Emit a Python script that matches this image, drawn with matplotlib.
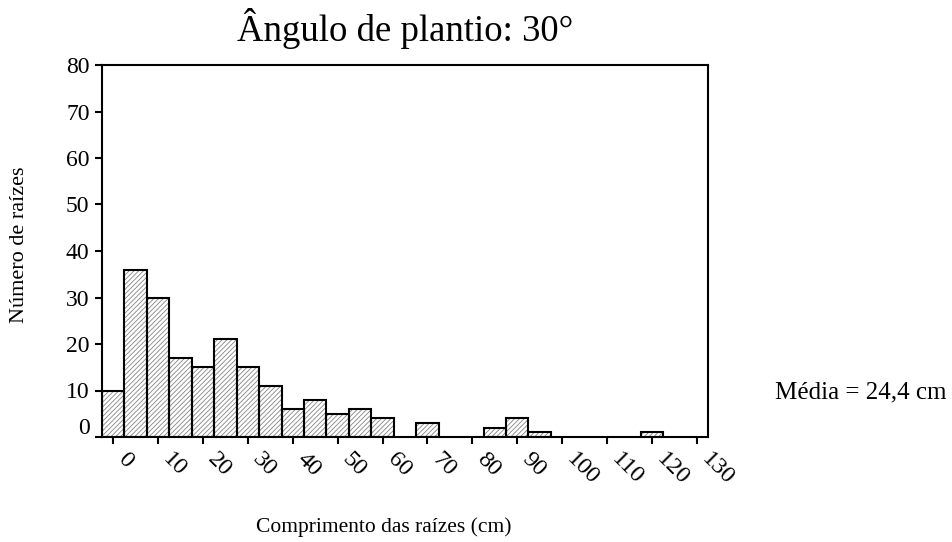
import matplotlib
matplotlib.use("Agg")
import matplotlib.pyplot as plt
import matplotlib.transforms as mtransforms

plt.rcParams['font.family'] = ['Liberation Serif', 'DejaVu Serif']
plt.rcParams['hatch.linewidth'] = 0.6

# bin centres (cm) and counts, 5 cm bins
centres = [0, 5, 10, 15, 20, 25, 30, 35, 40, 45, 50, 55, 60, 70, 85, 90, 95, 120]
counts = [10, 36, 30, 17, 15, 21, 15, 11, 6, 8, 5, 6, 4, 3, 2, 4, 1, 1]
xticks = list(range(0, 140, 10))
yticks = list(range(0, 90, 10))

fig = plt.figure(figsize=(9.52, 5.42), dpi=100)
ax = fig.add_axes([102 / 952, 1 - 437 / 542, 606 / 952, 372 / 542])

# hatched fill, then black outline on top
ax.bar(centres, counts, width=5, color='white', edgecolor='#858585',
       hatch='///////', linewidth=0)
ax.bar(centres, counts, width=5, fill=False, edgecolor='black', linewidth=1.5)

ax.set_xlim(-2.5, 132.5)
ax.set_ylim(0, 80)
ax.set_xticks(xticks)
ax.set_xticklabels([str(t) for t in xticks], rotation=-45, ha='left', va='center',
                   rotation_mode='anchor', fontsize=17.5)
ax.set_yticks(yticks)
ax.set_yticklabels([str(t) for t in yticks], fontsize=17)
ax.tick_params(axis='both', direction='out', length=5, width=1.5)
ax.tick_params(axis='y', pad=4)
ax.tick_params(axis='x', pad=9)
for s in ax.spines.values():
    s.set_linewidth(1.5)

# x labels sit to the right of their ticks
for lab in ax.get_xticklabels():
    lab.set_transform(lab.get_transform() +
                      mtransforms.ScaledTranslation(0.08, 0, fig.dpi_scale_trans))

# the "0" label sits a little above its tick in the original
lab0 = ax.get_yticklabels()[0]
lab0.set_transform(lab0.get_transform() +
                   mtransforms.ScaledTranslation(0, 0.11, fig.dpi_scale_trans))

ax.set_title("Ângulo de plantio: 30°", fontsize=26.5, pad=17)
fig.text(384 / 952, 1 - 532 / 542, "Comprimento das raízes (cm)", fontsize=15.5,
         ha='center', va='baseline')
fig.text(20 / 952, 1 - 245 / 542, "Número de raízes", fontsize=16,
         rotation=90, ha='center', va='center')
fig.text(775 / 952, 1 - 392 / 542, "Média = 24,4 cm", fontsize=18,
         ha='left', va='center')

fig.savefig("out.png", dpi=100)
